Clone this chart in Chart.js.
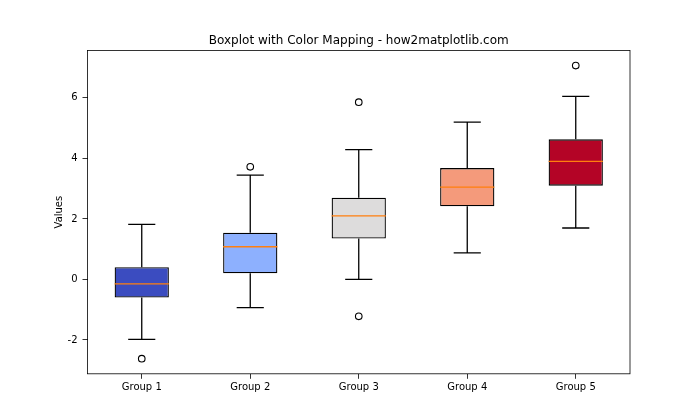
<!DOCTYPE html>
<html>
<head>
<meta charset="utf-8">
<script src="https://cdn.jsdelivr.net/npm/chart.js@4.4.0/dist/chart.umd.min.js"></script>
<style>
  html, body { margin: 0; padding: 0; background: #fff; }
  canvas { display: block; }
</style>
</head>
<body>
<canvas id="chart" width="700" height="420"></canvas>
<script>
// data
const groups = ["Group 1", "Group 2", "Group 3", "Group 4", "Group 5"];
const whiskerLow = [-1.98, -0.93, 0.0, 0.88, 1.70];
const q1 = [-0.60, 0.20, 1.35, 2.42, 3.10];
const median = [-0.15, 1.08, 2.10, 3.05, 3.90];
const q3 = [0.40, 1.54, 2.70, 3.68, 4.63];
const whiskerHigh = [1.82, 3.45, 4.29, 5.20, 6.05];
const outlierGroup = [1, 2, 3, 3, 5];
const outlierValue = [-2.62, 3.72, 5.86, -1.22, 7.07];
const yTicks = [-2, 0, 2, 4, 6];
const titleText = "Boxplot with Color Mapping - how2matplotlib.com";

const boxColors = ["#3b4cc0", "#8db0fe", "#dddcdc", "#f49a7b", "#b40426"];
const BOX_W = 0.5;
const CAP_W = 0.25;

// 🔹 build box / line pieces from the arrays
const boxData = groups.map((g, i) => ({ x: i + 1, y: [q1[i], q3[i]] }));

const medianData = [];
const whiskerData = [];
groups.forEach((g, i) => {
  const x = i + 1;
  medianData.push({ x: x - BOX_W / 2, y: median[i] }, { x: x + BOX_W / 2, y: median[i] }, { x: x, y: null });
  // lower whisker + cap
  whiskerData.push({ x: x, y: q1[i] }, { x: x, y: whiskerLow[i] }, { x: x, y: null });
  whiskerData.push({ x: x - CAP_W / 2, y: whiskerLow[i] }, { x: x + CAP_W / 2, y: whiskerLow[i] }, { x: x, y: null });
  // upper whisker + cap
  whiskerData.push({ x: x, y: q3[i] }, { x: x, y: whiskerHigh[i] }, { x: x, y: null });
  whiskerData.push({ x: x - CAP_W / 2, y: whiskerHigh[i] }, { x: x + CAP_W / 2, y: whiskerHigh[i] }, { x: x, y: null });
});

const outlierData = outlierValue.map((v, i) => ({ x: outlierGroup[i], y: v }));

// 🔹 frame + title centred over the plot area
const framePlugin = {
  id: "frame",
  afterDraw(chart) {
    const { ctx, chartArea: a } = chart;
    ctx.save();
    ctx.strokeStyle = "#000";
    ctx.lineWidth = 0.8;
    ctx.strokeRect(a.left, a.top, a.right - a.left, a.bottom - a.top);
    ctx.fillStyle = "#000";
    ctx.font = "12px 'DejaVu Sans', sans-serif";
    ctx.textAlign = "center";
    ctx.textBaseline = "alphabetic";
    ctx.fillText(titleText, (a.left + a.right) / 2, a.top - 6.5);
    ctx.restore();
  }
};

Chart.defaults.font.family = "'DejaVu Sans', sans-serif";
Chart.defaults.color = "#000";

// solid line drawn as a dash pattern so every segment is stroked as given
const lineStyle = {
  type: "line",
  borderWidth: 1.3,
  borderDash: [10000, 0],
  pointRadius: 0,
  spanGaps: false,
  fill: false,
  tension: 0
};

new Chart(document.getElementById("chart").getContext("2d"), {
  type: "bar",
  data: {
    datasets: [
      {
        type: "line",
        data: outlierData,
        showLine: false,
        pointRadius: 3.3,
        pointBorderWidth: 1.1,
        pointBackgroundColor: "rgba(0,0,0,0)",
        pointBorderColor: "#000",
        order: 0
      },
      { ...lineStyle, data: medianData, borderColor: "#ff7f0e", order: 1 },
      { ...lineStyle, data: whiskerData, borderColor: "#000", order: 2 },
      {
        type: "bar",
        data: boxData,
        backgroundColor: boxColors,
        borderColor: "#000",
        borderWidth: 1.3,
        borderSkipped: false,
        categoryPercentage: 1,
        barPercentage: BOX_W,
        order: 3
      }
    ]
  },
  options: {
    responsive: false,
    animation: false,
    devicePixelRatio: 1,
    layout: { padding: { left: 0, right: 70, top: 50.4, bottom: 0 } },
    plugins: {
      legend: { display: false },
      tooltip: { enabled: false },
      title: { display: false }
    },
    scales: {
      x: {
        type: "linear",
        min: 0.5,
        max: 5.5,
        offset: false,
        border: { display: false },
        grid: { offset: false, drawOnChartArea: false, drawTicks: true, tickLength: 5, color: "#000", tickWidth: 0.8 },
        afterBuildTicks(scale) {
          scale.ticks = groups.map((g, i) => ({ value: i + 1 }));
        },
        ticks: {
          font: { size: 10 },
          color: "#000",
          padding: 3,
          maxRotation: 0,
          callback: (v) => groups[v - 1]
        },
        afterFit(scale) { scale.height = 46.2; }
      },
      y: {
        type: "linear",
        min: -3.12,
        max: 7.57,
        border: { display: false },
        grid: { drawOnChartArea: false, drawTicks: true, tickLength: 5, color: "#000", tickWidth: 0.8 },
        afterBuildTicks(scale) {
          scale.ticks = yTicks.map((v) => ({ value: v }));
        },
        ticks: {
          font: { size: 10 },
          color: "#000",
          padding: 5,
          callback: (v) => String(v)
        },
        title: {
          display: true,
          text: "Values",
          font: { size: 10 },
          color: "#000",
          padding: { top: 53, bottom: 0 }
        },
        afterFit(scale) { scale.width = 87.5; }
      }
    }
  },
  plugins: [framePlugin]
});
</script>
</body>
</html>
